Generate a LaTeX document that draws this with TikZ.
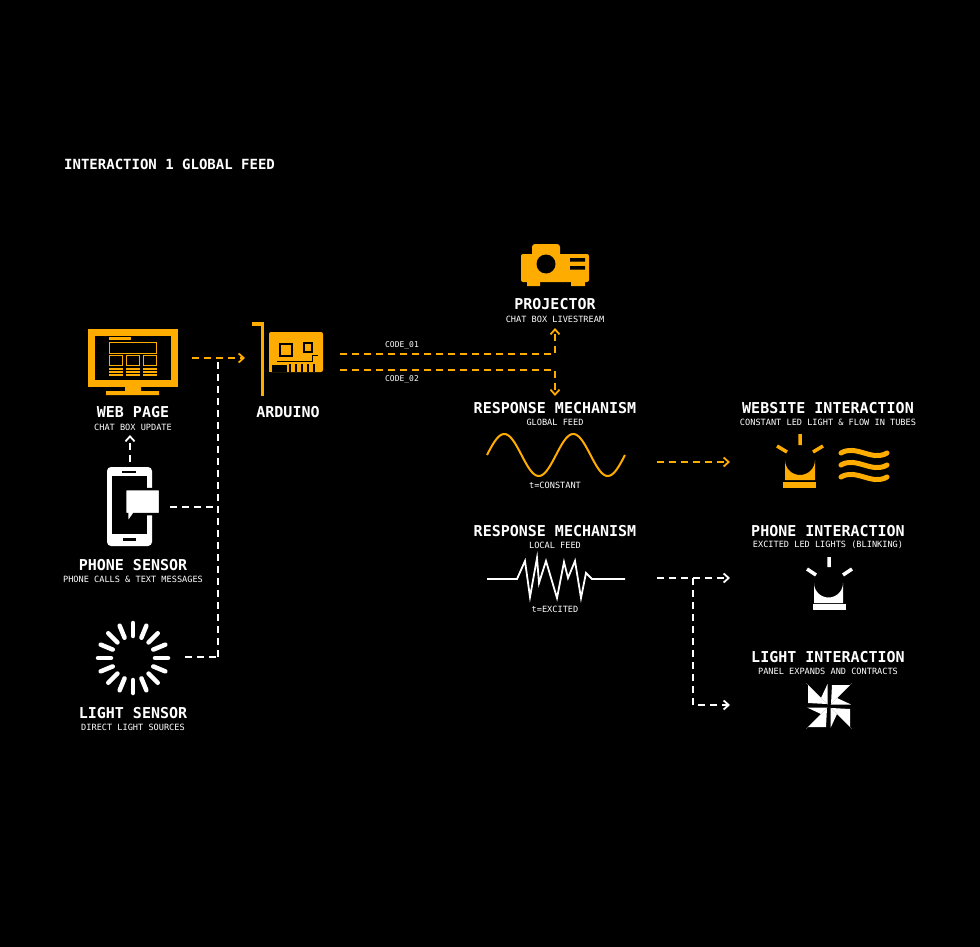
\documentclass[tikz,border=0pt]{standalone}
\usepackage{fontspec}
\setmonofont{DejaVu Sans Mono}
\usetikzlibrary{arrows.meta}
\definecolor{org}{HTML}{FFAC00}
\begin{document}
\begin{tikzpicture}[x=1pt,y=-1pt,
  head/.style={text=white,font=\ttfamily\bfseries\fontsize{15}{15}\selectfont,inner sep=0},
  sub/.style={text=white,font=\ttfamily\fontsize{8.6}{9}\selectfont,inner sep=0},
  odash/.style={draw=org,line width=2pt,dash pattern=on 7pt off 5pt},
  wdash/.style={draw=white,line width=2pt,dash pattern=on 7pt off 5pt},
  tip/.style={-{Straight Barb[length=5pt,width=9pt,line width=1.8pt]}}]
\fill[black] (0,0) rectangle (980,947);
\useasboundingbox (0,0) rectangle (980,947);
\node[head,anchor=west,font=\ttfamily\bfseries\fontsize{14}{14}\selectfont] (title) at (64,164) {INTERACTION 1 GLOBAL FEED};
% monitor
\fill[org] (88,329) rectangle (178,387);
\fill[black] (95,336) rectangle (171,380);
\fill[org] (125,387) rectangle (141,391) (106,391) rectangle (159,395);
\fill[org] (109,337) rectangle (131,340);
\draw[org,line width=1.4pt] (109.5,342.5) rectangle (156.5,353.5);
\foreach \a/\b in {109/123,126/140,143/157}{
  \draw[org,line width=1.4pt] (\a+.5,355.5) rectangle (\b-.5,365.5);
  \foreach \yy in {368,371,374}{\fill[org] (\a,\yy) rectangle (\b,\yy+1.6);}}
\node[head] (web) at (133,412) {WEB PAGE};
\node[sub] (websub) at (133,427) {CHAT BOX UPDATE};
% phone
\fill[white,rounded corners=4pt] (107,467) rectangle (152,546);
\fill[black] (112,476) rectangle (147,534);
\fill[black] (122,471) rectangle (136,472.5);
\fill[black] (123,538) rectangle (136,541);
\filldraw[white,draw=black,line width=2.5pt] (125,489) -- (160,489) -- (160,514) -- (134,514) -- (127,524) -- (127,514) -- (125,514) -- cycle;
\node[head] (phs) at (133,565) {PHONE SENSOR};
\node[sub] (phsub) at (133,579) {PHONE CALLS \& TEXT MESSAGES};
% light sensor
\foreach \k in {0,...,15}{\draw[white,line width=4.5pt,line cap=round] (133,658) ++(\k*22.5:22) -- ++(\k*22.5:13);}
\node[head] (ls) at (133,713) {LIGHT SENSOR};
\node[sub] (lssub) at (133,727) {DIRECT LIGHT SOURCES};
% arduino
\fill[org] (252,322) rectangle (264,325.5);
\fill[org] (260.5,322) rectangle (264,396);
\fill[org,rounded corners=2pt] (269,332) rectangle (323,372);
\fill[black] (279,343) rectangle (293,357);
\fill[org] (281,345) rectangle (291,355);
\draw[black,line width=1.2pt] (304,343) rectangle (312,352);
\draw[black,line width=1pt] (277,361) -- (312,361) -- (312,355) -- (318,355);
\foreach \xx in {289,295,301,307,313}{\fill[black] (\xx,364) rectangle (\xx+2,372);}
\fill[black] (269,365) rectangle (287,372);
\fill[org] (269,365) rectangle (272,372);
\node[head] (ard) at (288,412) {ARDUINO};
% projector
\fill[org,rounded corners=3pt] (532,244) rectangle (560,258);
\fill[org,rounded corners=2pt] (521,254) rectangle (589,282);
\fill[org] (527,280) rectangle (540,286) (571,280) rectangle (585,286);
\fill[black] (546,264) circle (9.5);
\fill[black] (570,258) rectangle (585,261.5) (570,266) rectangle (585,269.5);
\node[head] (proj) at (555,304) {PROJECTOR};
\node[sub] (projsub) at (555,319) {CHAT BOX LIVESTREAM};
% response 1
\node[head] (rm1) at (555,408) {RESPONSE MECHANISM};
\node[sub] (rm1sub) at (555,422) {GLOBAL FEED};
\draw[org,line width=2pt,domain=0:138,samples=120] plot ({487+\x},{455-21*sin(5.2174*\x)});
\node[sub] (tc) at (555,485) {t=CONSTANT};
% response 2
\node[head] (rm2) at (555,531) {RESPONSE MECHANISM};
\node[sub] (rm2sub) at (555,545) {LOCAL FEED};
\draw[white,line width=1.8pt,line join=miter] (487,579) -- (517,579) -- (525,561) -- (530,597) -- (537,558) -- (539,583) -- (546,561) -- (557,598) -- (564,562) -- (568,578) -- (575,561) -- (581,598) -- (586,573) -- (592,579) -- (625,579);
\node[sub] (te) at (555,609) {t=EXCITED};
% website interaction
\node[head] (wi) at (828,408) {WEBSITE INTERACTION};
\node[sub] (wisub) at (828,422) {CONSTANT LED LIGHT \& FLOW IN TUBES};
\fill[org] (785,480) -- (785,460) arc[start angle=180,end angle=0,radius=15] -- (815,480) -- cycle;
\fill[org] (783,482) rectangle (816,488);
\draw[org,line width=3.5pt] (800,434) -- (800,445) (777,446) -- (787,452) (823,446) -- (813,452);
\foreach \yy in {453,465,477}{\draw[org,line width=5pt,line cap=round] (841,\yy) .. controls (856,\yy-9) and (872,\yy+9) .. (887,\yy);}
% phone interaction
\node[head] (pi) at (828,531) {PHONE INTERACTION};
\node[sub] (pisub) at (828,545) {EXCITED LED LIGHTS (BLINKING)};
\fill[white] (814,603) -- (814,583) arc[start angle=180,end angle=0,radius=14.5] -- (843,603) -- cycle;
\fill[white] (813,604) rectangle (846,610);
\draw[white,line width=3.5pt] (829,557) -- (829,567) (807,569) -- (816,575) (852,569) -- (843,575);
% light interaction
\node[head] (li) at (828,657) {LIGHT INTERACTION};
\node[sub] (lisub) at (828,671) {PANEL EXPANDS AND CONTRACTS};
\begin{scope}[shift={(829,706)}]
\foreach \r in {0,90,180,270}{\fill[white,rotate=\r] (1.5,-1.5) -- (23,-23) -- (8,-8) -- (22,-1.5) -- cycle; \fill[white,rotate=\r] (2,-2) -- (21,-21) -- (3,-21) -- cycle;}
\end{scope}
% connectors
\draw[odash,tip] (192,358) -- (245,358);
\draw[wdash] (218,362) -- (218,657);
\draw[wdash] (170,507) -- (218,507);
\draw[wdash] (185,657) -- (218,657);
\draw[wdash,tip] (130,462) -- (130,435);
\draw[odash,tip] (340,354) -- (555,354) -- (555,328);
\draw[odash,tip] (340,370) -- (555,370) -- (555,396);
\node[sub,font=\ttfamily\fontsize{8}{8}\selectfont] (c1) at (402,345) {CODE\_01};
\node[sub,font=\ttfamily\fontsize{8}{8}\selectfont] (c2) at (402,379) {CODE\_02};
\draw[odash,tip] (657,462) -- (730,462);
\draw[wdash,tip] (657,578) -- (730,578);
\draw[wdash,tip] (693,578) -- (693,705) -- (730,705);
\end{tikzpicture}
\end{document}
